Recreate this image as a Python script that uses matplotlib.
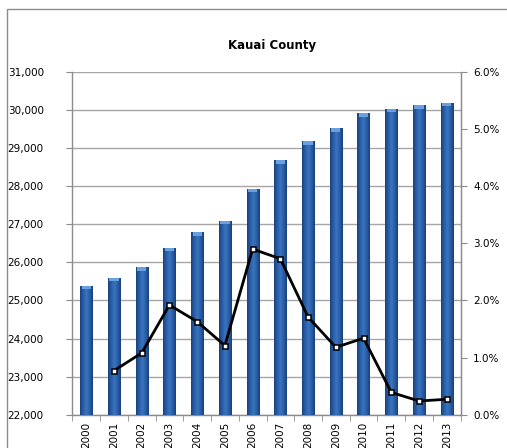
import numpy as np
import matplotlib
matplotlib.use("Agg")
import matplotlib.pyplot as plt
from matplotlib.colors import LinearSegmentedColormap
from matplotlib.ticker import FuncFormatter, MultipleLocator, FixedLocator
from matplotlib.patches import Rectangle

years = ["2000", "2001", "2002", "2003", "2004", "2005", "2006",
         "2007", "2008", "2009", "2010", "2011", "2012", "2013"]
population = [25390, 25600, 25870, 26380, 26790, 27100, 27930,
              28680, 29180, 29520, 29920, 30040, 30130, 30190]
growth_pct = [None, 0.77, 1.08, 1.92, 1.63, 1.21, 2.90,
              2.73, 1.71, 1.18, 1.34, 0.39, 0.24, 0.27]
title = "Kauai County"

plt.rcParams['font.family'] = ['DejaVu Sans']

fig = plt.figure(figsize=(5.07, 4.48), dpi=100)
# outer chart border
fig.patches.append(Rectangle((7/507, -0.1), 1.2, (448-9)/448 + 0.1,
                             transform=fig.transFigure, fill=False,
                             edgecolor='#8c8c8c', linewidth=1.0))

ax = fig.add_axes([72.3/507, 1 - 414.7/448, (460.7-72.3)/507, (414.7-72)/448])
x = np.arange(len(years))

ax.set_xlim(-0.5, len(years) - 0.5)
ax.set_ylim(22000, 31000)
ax.yaxis.set_major_locator(MultipleLocator(1000))
ax.yaxis.set_major_formatter(FuncFormatter(lambda v, p: f"{int(v):,}"))
ax.grid(axis='y', color='#a6a6a6', linewidth=1.0, zorder=0)
ax.set_axisbelow(True)

bars = ax.bar(x, population, width=0.44, color='#2a5da3', zorder=2,
              linewidth=0)

# horizontal gradient for 3D look
cmap = LinearSegmentedColormap.from_list(
    "b", ["#19407a", "#2a5ea6", "#3a74c0", "#2a5ea6", "#19407a"])
grad = np.linspace(0, 1, 64).reshape(1, -1)
for b in bars:
    bx, by = b.get_x(), b.get_y()
    bw, bh = b.get_width(), b.get_height()
    top = by + bh
    im = ax.imshow(grad, cmap=cmap, extent=(bx, bx + bw, ax.get_ylim()[0], top),
                   aspect='auto', zorder=3, interpolation='bilinear')
    im.set_clip_path(b)
    # lighter cap at top
    cap_h = 90
    ax.add_patch(Rectangle((bx + bw*0.12, top - cap_h), bw*0.76, cap_h,
                           facecolor='#6a9fe0', edgecolor='none', zorder=4))
ax.set_xlim(-0.5, len(years) - 0.5)
ax.set_ylim(22000, 31000)

ax.spines['top'].set_visible(False)
for s in ['left', 'right', 'bottom']:
    ax.spines[s].set_color('#8c8c8c')
    ax.spines[s].set_linewidth(1.0)

ax.set_xticks(x)
ax.set_xticklabels(years, rotation=90, fontsize=7.5)
ax.tick_params(axis='x', which='major', length=0, pad=5)
ax.xaxis.set_minor_locator(FixedLocator(np.arange(-0.5, len(years), 1.0)))
ax.tick_params(axis='x', which='minor', length=4, color='#8c8c8c')
ax.tick_params(axis='y', length=4, color='#8c8c8c', labelsize=7.5, pad=16.5)

ax2 = ax.twinx()
ax2.set_ylim(0, 6.0)
ax2.yaxis.set_major_locator(MultipleLocator(1.0))
ax2.yaxis.set_major_formatter(FuncFormatter(lambda v, p: f"{v:.1f}%"))
ax2.tick_params(axis='y', length=4, color='#8c8c8c', labelsize=7.5, pad=5)
for s in ['top', 'left', 'bottom']:
    ax2.spines[s].set_visible(False)
ax2.spines['right'].set_color('#8c8c8c')

gx = [xi for xi, g in zip(x, growth_pct) if g is not None]
gy = [g for g in growth_pct if g is not None]
ax2.plot(gx, gy, color='black', linewidth=2.0, marker='s', markersize=3.6,
         markerfacecolor='white', markeredgecolor='black', markeredgewidth=1.1,
         zorder=5)

fig.text(272/507, 1 - 45/448, title, ha='center', va='center',
         fontsize=8.5, fontweight='bold')

fig.savefig("out.png", dpi=100)
